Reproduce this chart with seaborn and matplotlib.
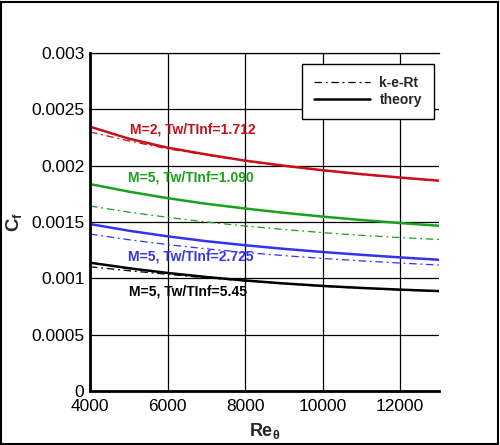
import numpy as np
import pandas as pd
import matplotlib
matplotlib.use('Agg')
import matplotlib.pyplot as plt
from matplotlib.lines import Line2D
from matplotlib.patches import Rectangle
from matplotlib.ticker import MultipleLocator
import seaborn as sns

# Valores
re_theta = [4000, 5000, 6000, 7000, 8000, 9000, 10000, 11000, 12000, 13000]

cf_m2_171_teoria = [0.002346, 0.00224, 0.00216, 0.0021, 0.002045, 0.002, 0.00196, 0.001925, 0.001895, 0.001867]
cf_m2_171_kert = [0.0023, 0.00222, 0.00215, 0.002095, 0.002042, 0.001997, 0.001957, 0.001922, 0.001892, 0.001864]

cf_m5_109_teoria = [0.001837, 0.00177, 0.001712, 0.001662, 0.00162, 0.001582, 0.001548, 0.001518, 0.001491, 0.001467]
cf_m5_109_kert = [0.001642, 0.001588, 0.001542, 0.0015, 0.001465, 0.001434, 0.001406, 0.001382, 0.001362, 0.001345]

cf_m5_272_teoria = [0.001482, 0.001423, 0.001373, 0.00133, 0.001294, 0.001262, 0.001234, 0.001209, 0.001186, 0.001165]
cf_m5_272_kert = [0.001393, 0.001343, 0.0013, 0.001262, 0.00123, 0.001202, 0.001177, 0.001155, 0.001136, 0.001118]

cf_m5_545_teoria = [0.001139, 0.00109, 0.001048, 0.001012, 0.000981, 0.000955, 0.000933, 0.000915, 0.0009, 0.000887]
cf_m5_545_kert = [0.001103, 0.001068, 0.001036, 0.001005, 0.000977, 0.000952, 0.00093, 0.000912, 0.000897, 0.000884]

casos = ['M=2, Tw/TInf=1.712', 'M=5, Tw/TInf=1.090', 'M=5, Tw/TInf=2.725', 'M=5, Tw/TInf=5.45']
cores = ['#c8101a', '#1aa01a', '#3434ee', '#000000']
teoria = [cf_m2_171_teoria, cf_m5_109_teoria, cf_m5_272_teoria, cf_m5_545_teoria]
kert = [cf_m2_171_kert, cf_m5_109_kert, cf_m5_272_kert, cf_m5_545_kert]
pos_rotulos = [(5030, 0.002317), (4980, 0.001893), (4972, 0.001198), (5006, 0.000881)]

sns.set_style('white')
plt.rcParams['font.family'] = ['Liberation Sans', 'DejaVu Sans']
plt.rcParams['mathtext.fontset'] = 'custom'
plt.rcParams['mathtext.rm'] = 'Liberation Sans'
plt.rcParams['mathtext.bf'] = 'Liberation Sans:bold'
plt.rcParams['mathtext.it'] = 'Liberation Sans:italic'

fig = plt.figure(figsize=(5, 4.45), dpi=100)
ax = fig.add_axes([0.18, 0.1213, 0.698, 0.7595])

estilo_kert = (0, (6, 3, 1.5, 3))
for nome, cor, yt, yk in zip(casos, cores, teoria, kert):
    dados = pd.DataFrame({'Re': re_theta, 'teoria': yt, 'kert': yk})
    sns.lineplot(data=dados, x='Re', y='kert', color=cor, linewidth=0.9, ax=ax)
    ax.lines[-1].set_linestyle(estilo_kert)
    sns.lineplot(data=dados, x='Re', y='teoria', color=cor, linewidth=1.8, ax=ax)

for nome, cor, (xr, yr) in zip(casos, cores, pos_rotulos):
    ax.text(xr, yr, nome, color=cor, fontsize=10, fontweight='bold', ha='left', va='center')

ax.set_xlim(4000, 13000)
ax.set_ylim(0, 0.003)
ax.xaxis.set_major_locator(MultipleLocator(2000))
ax.xaxis.set_minor_locator(MultipleLocator(500))
ax.yaxis.set_minor_locator(MultipleLocator(0.0001))
ax.set_yticks([0, 0.0005, 0.001, 0.0015, 0.002, 0.0025, 0.003])
ax.set_yticklabels(['0', '0.0005', '0.001', '0.0015', '0.002', '0.0025', '0.003'])
ax.tick_params(which='major', direction='in', length=6, width=1.5, labelsize=12.5, colors='black')
ax.tick_params(axis='y', which='major', pad=4)
ax.tick_params(axis='x', which='major', pad=6)
ax.tick_params(which='minor', direction='in', length=3.5, width=1.2, colors='black')
ax.grid(True, which='major', color='black', linewidth=0.9)

for lado in ['left', 'bottom']:
    ax.spines[lado].set_linewidth(2)
    ax.spines[lado].set_color('black')
ax.spines['top'].set_linewidth(0.9)
ax.spines['top'].set_color('black')
ax.spines['right'].set_visible(False)

ax.set_xlabel(r'$\mathbf{Re_{\theta}}$', fontsize=13)
ax.set_ylabel(r'$\mathbf{C_f}$', fontsize=13.5)
ax.xaxis.set_label_coords(0.5, -0.09)
ax.yaxis.set_label_coords(-0.19, 0.5)

handles = [Line2D([], [], color='black', linewidth=0.9, linestyle=estilo_kert),
           Line2D([], [], color='black', linewidth=1.8)]
leg = ax.legend(handles, ['k-e-Rt', 'theory'], loc='upper right', bbox_to_anchor=(0.985, 0.967),
                frameon=True, fancybox=False, framealpha=1, edgecolor='black',
                prop={'weight': 'bold', 'size': 10}, handlelength=4, handletextpad=0.7,
                borderpad=0.85, labelspacing=0.2, borderaxespad=0)
leg.get_frame().set_linewidth(1)

fig.patches.append(Rectangle((0.002, 0.002), 0.994, 0.994, transform=fig.transFigure,
                             fill=False, edgecolor='black', linewidth=1.5))

fig.savefig('out.png', dpi=100)
